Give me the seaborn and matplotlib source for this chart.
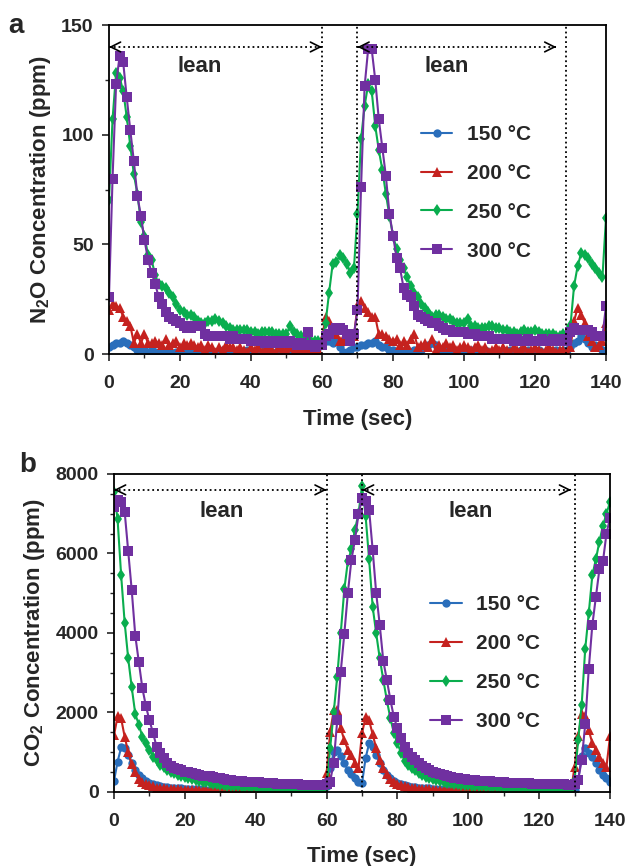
import numpy as np
import pandas as pd
import seaborn as sns
import matplotlib.pyplot as plt
from matplotlib.ticker import MultipleLocator

time = np.arange(0, 141)
temps = ["150 °C", "200 °C", "250 °C", "300 °C"]

# N2O (ppm), panel a
n2o_150 = [3, 4, 5, 5, 6, 5, 4, 3, 2, 2,
           2, 1, 2, 1, 1, 2, 1, 1, 0, 1,
           1, 2, 1, 1, 2, 1, 1, 1, 0, 1,
           1, 1, 2, 1, 1, 0, 1, 1, 1, 2,
           1, 1, 0, 1, 2, 1, 1, 1, 2, 1,
           1, 1, 2, 1, 1, 2, 1, 2, 2, 3,
           5, 6, 6, 5, 6, 3, 1, 1, 2, 3,
           3, 4, 4, 5, 5, 6, 4, 3, 3, 2,
           2, 1, 2, 1, 2, 1, 2, 1, 2, 3,
           4, 5, 4, 2, 1, 2, 1, 2, 1, 2,
           1, 2, 2, 1, 2, 1, 2, 1, 1, 2,
           1, 2, 1, 2, 1, 1, 2, 1, 2, 1,
           1, 2, 1, 1, 2, 1, 2, 1, 2, 2,
           3, 5, 6, 8, 7, 5, 3, 4, 3, 2,
           2]
n2o_200 = [20, 23, 22, 21, 17, 15, 13, 5, 9, 5,
           9, 5, 5, 6, 5, 4, 7, 4, 5, 6,
           3, 5, 4, 5, 4, 3, 4, 2, 4, 3,
           1, 3, 2, 4, 3, 3, 2, 3, 2, 1,
           3, 2, 3, 1, 2, 3, 2, 1, 3, 2,
           2, 3, 1, 2, 3, 2, 1, 2, 2, 2,
           7, 17, 15, 11, 9, 6, 7, 6, 9, 8,
           22, 24, 21, 19, 17, 17, 9, 9, 8, 7,
           6, 7, 4, 6, 4, 7, 9, 3, 4, 5,
           3, 7, 2, 4, 3, 5, 3, 4, 2, 3,
           4, 3, 2, 3, 4, 2, 3, 1, 2, 3,
           2, 3, 2, 1, 3, 2, 2, 3, 1, 2,
           3, 2, 1, 2, 3, 2, 1, 2, 2, 1,
           3, 15, 21, 18, 14, 8, 6, 3, 4, 6,
           14]
n2o_250 = [70, 107, 128, 126, 120, 108, 95, 82, 73, 60,
           54, 45, 43, 36, 32, 31, 30, 28, 26, 23,
           20, 19, 18, 18, 17, 15, 14, 14, 15, 15,
           16, 15, 14, 13, 12, 11, 11, 11, 11, 11,
           10, 10, 9, 10, 10, 10, 10, 9, 9, 9,
           9, 13, 10, 9, 8, 7, 7, 6, 6, 6,
           5, 14, 28, 41, 42, 45, 44, 41, 37, 39,
           64, 98, 113, 123, 120, 104, 93, 84, 73, 63,
           54, 48, 43, 39, 35, 31, 28, 26, 23, 21,
           19, 17, 18, 18, 17, 16, 16, 15, 14, 14,
           14, 16, 13, 13, 12, 12, 12, 13, 13, 12,
           12, 11, 11, 10, 10, 9, 10, 11, 10, 10,
           11, 10, 9, 9, 9, 9, 8, 8, 9, 7,
           13, 31, 40, 46, 45, 44, 41, 39, 37, 35,
           62]
n2o_300 = [26, 80, 123, 136, 133, 117, 102, 88, 72, 63,
           52, 43, 37, 32, 26, 23, 19, 17, 16, 15,
           14, 13, 12, 12, 13, 13, 13, 9, 8, 8,
           8, 8, 8, 8, 7, 8, 7, 7, 7, 7,
           6, 6, 6, 6, 5, 6, 5, 6, 5, 6,
           5, 6, 5, 4, 5, 4, 10, 4, 3, 4,
           4, 8, 9, 11, 12, 12, 11, 9, 6, 9,
           20, 76, 122, 139, 139, 125, 107, 94, 81, 64,
           54, 44, 39, 30, 27, 26, 22, 18, 17, 16,
           15, 14, 14, 13, 12, 11, 11, 10, 10, 10,
           10, 9, 9, 9, 8, 8, 8, 8, 7, 7,
           7, 7, 7, 7, 6, 7, 6, 6, 7, 6,
           6, 6, 7, 6, 6, 7, 6, 7, 6, 6,
           10, 12, 11, 11, 11, 11, 10, 8, 8, 8,
           22]

# CO2 (ppm), panel b
co2_150 = [280, 760, 1120, 1110, 930, 720, 550, 430, 340, 280,
           230, 200, 170, 150, 130, 120, 110, 100, 95, 90,
           85, 80, 75, 70, 70, 65, 60, 60, 55, 55,
           50, 50, 50, 45, 45, 45, 40, 40, 40, 40,
           40, 35, 35, 35, 35, 35, 30, 30, 30, 30,
           30, 30, 30, 30, 30, 30, 30, 30, 30, 40,
           150, 600, 1000, 1050, 900, 720, 560, 440, 340, 260,
           220, 850, 1220, 1140, 930, 720, 560, 430, 340, 280,
           230, 200, 170, 150, 130, 120, 110, 100, 95, 90,
           85, 80, 75, 70, 70, 65, 60, 60, 55, 55,
           50, 50, 50, 45, 45, 45, 40, 40, 40, 40,
           40, 35, 35, 35, 35, 35, 30, 30, 30, 30,
           30, 30, 30, 30, 30, 30, 30, 30, 30, 30,
           40, 300, 900, 1100, 970, 890, 720, 550, 430, 340,
           260]
co2_200 = [1430, 1900, 1850, 1390, 1000, 700, 500, 330, 250, 200,
           170, 140, 110, 100, 90, 80, 75, 70, 65, 60,
           60, 55, 55, 50, 50, 50, 45, 45, 45, 40,
           40, 40, 40, 40, 35, 35, 35, 35, 35, 35,
           30, 30, 30, 30, 30, 30, 30, 30, 30, 30,
           30, 30, 30, 30, 30, 30, 30, 30, 30, 30,
           470, 1500, 2050, 2050, 1600, 1300, 1060, 930, 720, 600,
           1480, 1880, 1800, 1450, 1100, 800, 600, 450, 330, 260,
           210, 170, 140, 120, 100, 90, 80, 75, 70, 65,
           60, 55, 55, 50, 50, 50, 45, 45, 45, 40,
           40, 40, 40, 40, 35, 35, 35, 35, 35, 35,
           30, 30, 30, 30, 30, 30, 30, 30, 30, 30,
           30, 30, 30, 30, 30, 30, 30, 30, 30, 30,
           640, 1400, 1950, 1900, 1550, 1230, 1060, 890, 720, 640,
           1400]
co2_250 = [7550, 6860, 5460, 4260, 3360, 2630, 1960, 1690, 1390, 1220,
           1060, 890, 800, 680, 640, 560, 510, 470, 430, 400,
           370, 340, 320, 300, 280, 260, 240, 220, 210, 200,
           185, 175, 160, 150, 145, 140, 135, 130, 125, 120,
           115, 110, 105, 100, 95, 90, 90, 85, 85, 80,
           80, 80, 75, 75, 75, 75, 70, 70, 70, 70,
           150, 1100, 2000, 2900, 4000, 5100, 5800, 6100, 6600, 7000,
           7700, 6950, 5850, 4660, 3990, 3360, 2820, 2310, 1850, 1480,
           1220, 990, 790, 680, 600, 550, 470, 420, 386, 350,
           320, 300, 270, 250, 235, 220, 205, 195, 185, 175,
           165, 160, 155, 150, 140, 135, 130, 125, 120, 115,
           110, 108, 105, 100, 98, 95, 93, 92, 90, 88,
           85, 82, 80, 78, 75, 72, 70, 68, 66, 65,
           300, 1300, 2200, 3600, 4500, 5450, 5850, 6300, 6700, 7000,
           7300]
co2_300 = [7180, 7350, 7300, 7050, 6070, 5070, 3930, 3280, 2610, 2160,
           1800, 1490, 1140, 970, 850, 740, 650, 610, 570, 540,
           510, 490, 470, 440, 430, 410, 400, 390, 370, 350,
           340, 320, 305, 295, 285, 275, 265, 260, 255, 250,
           245, 240, 235, 230, 220, 215, 210, 205, 200, 200,
           195, 190, 190, 185, 185, 180, 180, 180, 180, 180,
           200, 260, 740, 1800, 3030, 3980, 5000, 5840, 6340, 6990,
           7390, 7330, 7100, 6090, 5000, 4200, 3300, 2820, 2320, 1880,
           1600, 1350, 1140, 990, 890, 800, 720, 650, 600, 550,
           510, 480, 450, 420, 400, 370, 350, 340, 330, 320,
           310, 300, 290, 285, 280, 270, 265, 260, 250, 245,
           240, 235, 230, 225, 220, 218, 216, 214, 212, 210,
           205, 202, 200, 198, 195, 193, 190, 188, 185, 180,
           200, 300, 800, 1700, 3100, 4200, 4900, 5600, 5800, 6500,
           6900]

colors = ["#2A6EBB", "#C5221F", "#0AAD4E", "#7030A0"]
markers = ["o", "^", "d", "s"]
msizes = [6, 6.5, 6, 6.5]

sns.set_style("ticks")
plt.rcParams['font.family'] = ['Liberation Sans', 'DejaVu Sans']
plt.rcParams['font.weight'] = 'bold'
plt.rcParams['axes.labelweight'] = 'bold'
plt.rcParams['mathtext.fontset'] = 'custom'
plt.rcParams['mathtext.rm'] = 'Liberation Sans:bold'
plt.rcParams['mathtext.bf'] = 'Liberation Sans:bold'

fig = plt.figure(figsize=(6.3, 8.66), dpi=100)
ax1 = fig.add_axes([0.1730, 0.5912, 0.7889, 0.3799])
ax2 = fig.add_axes([0.1810, 0.0855, 0.7873, 0.3672])


def draw_panel(ax, series, ymax, ymajor, yminor, bounds, arrow_y, lean_pos, lean_y,
               ylabel, leg_anchor, arrow_end):
    for vals, lab, c, m, ms in zip(series, temps, colors, markers, msizes):
        df = pd.DataFrame({"time": time, "conc": vals})
        sns.lineplot(data=df, x="time", y="conc", ax=ax, color=c, marker=m,
                     markersize=ms, markeredgewidth=0, linewidth=1.5, label=lab)
    for xv in bounds:
        ax.axvline(xv, color="black", linestyle=":", linewidth=1.3, zorder=5)
    # lean arrows
    for x0, x1 in [(0, 60), (70, arrow_end)]:
        ax.plot([x0, x1], [arrow_y, arrow_y], linestyle=":", color="black", lw=1.3)
        for tip, tail in [(x0, x0 + 0.4), (x1, x1 - 0.4)]:
            ax.annotate("", xy=(tip, arrow_y), xytext=(tail, arrow_y),
                        arrowprops=dict(arrowstyle="->, head_length=0.7, head_width=0.35",
                                        lw=1.2, color="black", shrinkA=0, shrinkB=0))
    for xp in lean_pos:
        ax.text(xp, lean_y, "lean", ha="center", va="center", fontsize=16,
                fontweight="bold")
    ax.set_xlim(0, 140)
    ax.set_ylim(0, ymax)
    ax.xaxis.set_major_locator(MultipleLocator(20))
    ax.xaxis.set_minor_locator(MultipleLocator(10))
    ax.yaxis.set_major_locator(MultipleLocator(ymajor))
    ax.yaxis.set_minor_locator(MultipleLocator(yminor))
    ax.tick_params(which="major", length=5, width=1.2, labelsize=14)
    ax.tick_params(which="minor", length=3, width=1.0)
    ax.tick_params(axis="x", pad=10)
    ax.tick_params(axis="y", pad=6)
    for lab in ax.get_xticklabels() + ax.get_yticklabels():
        lab.set_fontweight("bold")
    for sp in ax.spines.values():
        sp.set_visible(True)
        sp.set_linewidth(1.3)
        sp.set_color("black")
    ax.set_xlabel("Time (sec)", fontsize=16, fontweight="bold", labelpad=12)
    ax.set_ylabel(ylabel, fontsize=16, fontweight="bold", labelpad=6)
    ax.legend(loc="center left", bbox_to_anchor=leg_anchor, frameon=False,
              prop=dict(weight="bold", size=15), handlelength=1.5,
              handletextpad=0.7, labelspacing=0.95)


draw_panel(ax1, [n2o_150, n2o_200, n2o_250, n2o_300], 150, 50, 25,
           [60, 70, 128.7], 140, [25.6, 95], 131,
           r"N$_\mathbf{2}$O Concentration (ppm)", (0.59, 0.49), 126)
draw_panel(ax2, [co2_150, co2_200, co2_250, co2_300], 8000, 2000, 500,
           [60, 70, 130], 7600, [30.5, 100.8], 7050,
           r"CO$_\mathbf{2}$ Concentration (ppm)", (0.60, 0.405), 129)

fig.text(0.013, 0.985, "a", fontsize=20, fontweight="bold", va="top")
fig.text(0.030, 0.478, "b", fontsize=20, fontweight="bold", va="top")

fig.savefig("out.png", dpi=100)
